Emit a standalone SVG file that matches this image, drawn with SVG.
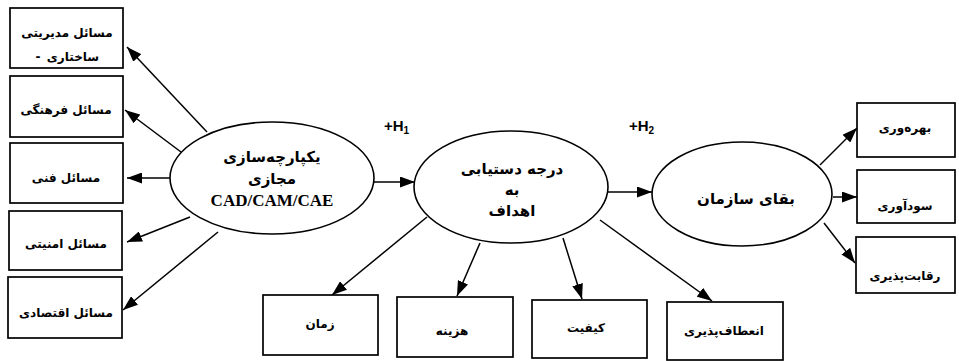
<svg xmlns="http://www.w3.org/2000/svg" width="959" height="361" viewBox="0 0 959 361">
<defs>
<marker id="ah" viewBox="0 0 15 11" refX="15" refY="5.5" markerWidth="15" markerHeight="11" markerUnits="userSpaceOnUse" orient="auto">
<path d="M0,0 L15,5.5 L0,11 Z" fill="#000"/>
</marker>
</defs>
<style>
.box{fill:#fff;stroke:#000;stroke-width:1.7}
.ell{fill:#fff;stroke:#000;stroke-width:1.6}
.con{stroke:#000;stroke-width:1.5;fill:none;marker-end:url(#ah)}
.bt{font-family:"DejaVu Sans",sans-serif;font-weight:bold;font-size:12px;text-anchor:middle;fill:#000}
.et{font-family:"DejaVu Sans",sans-serif;font-weight:bold;font-size:15px;text-anchor:middle;fill:#000}
.lt{font-family:"Liberation Serif",serif;font-weight:bold;font-size:17px;text-anchor:middle;fill:#000}
.ht{font-family:"Liberation Sans",sans-serif;font-weight:bold;font-size:15px;fill:#000}
</style>
<rect width="959" height="361" fill="#fff"/>
<g id="connectors">
<line class="con" x1="207" y1="132" x2="127" y2="47"/>
<line class="con" x1="181" y1="152" x2="125" y2="110"/>
<line class="con" x1="170" y1="178" x2="127" y2="178"/>
<line class="con" x1="190" y1="217" x2="127" y2="242"/>
<line class="con" x1="218" y1="232" x2="123" y2="310"/>
<line class="con" x1="373" y1="182" x2="415" y2="182"/>
<line class="con" x1="608" y1="192" x2="652" y2="192"/>
<line class="con" x1="427" y1="217" x2="332" y2="295"/>
<line class="con" x1="480" y1="243" x2="457" y2="296"/>
<line class="con" x1="563" y1="238" x2="582" y2="299"/>
<line class="con" x1="600" y1="220" x2="712" y2="301"/>
<line class="con" x1="820" y1="165" x2="857" y2="128"/>
<line class="con" x1="833" y1="197" x2="857" y2="197"/>
<line class="con" x1="824" y1="223" x2="855" y2="263"/>
</g>
<g id="n-modiriati"><rect class="box" x="10" y="8" width="113" height="60"/><text class="bt" x="67" y="37">مسائل مدیریتی</text><text class="bt" x="38" y="61">-</text><text class="bt" x="73" y="61">ساختاری</text></g>
<g id="n-farhangi"><rect class="box" x="10" y="76" width="113" height="61"/><text class="bt" x="66" y="114">مسائل فرهنگی</text></g>
<g id="n-fanni"><rect class="box" x="10" y="143" width="113" height="60"/><text class="bt" x="66" y="182">مسائل فنی</text></g>
<g id="n-amniati"><rect class="box" x="9" y="211" width="113" height="59"/><text class="bt" x="66" y="248">مسائل امنیتی</text></g>
<g id="n-eghtesadi"><rect class="box" x="8" y="277" width="114" height="61"/><text class="bt" x="66" y="317">مسائل اقتصادی</text></g>
<g id="n-cad"><ellipse class="ell" cx="272" cy="178" rx="102" ry="56"/><text class="et" x="272" y="162">یکپارچه‌سازی</text><text class="et" x="272" y="184">مجازی</text><text class="lt" x="272" y="206">CAD/CAM/CAE</text></g>
<g id="n-daraje"><ellipse class="ell" cx="511" cy="187" rx="97" ry="56"/><text class="et" x="512" y="174">درجه دستیابی</text><text class="et" x="512" y="195">به</text><text class="et" x="512" y="216">اهداف</text></g>
<g id="n-baqa"><ellipse class="ell" cx="742" cy="194" rx="90" ry="52"/><text class="et" x="746" y="204">بقای سازمان</text></g>
<g id="n-bahrevari"><rect class="box" x="857" y="103" width="98" height="54"/><text class="bt" x="905" y="132">بهره‌وری</text></g>
<g id="n-sudavari"><rect class="box" x="857" y="170" width="98" height="53"/><text class="bt" x="905" y="210">سودآوری</text></g>
<g id="n-reqabat"><rect class="box" x="856" y="237" width="99" height="56"/><text class="bt" x="905" y="280">رقابت‌پذیری</text></g>
<g id="n-zaman"><rect class="box" x="263" y="295" width="115" height="60"/><text class="bt" x="320" y="328">زمان</text></g>
<g id="n-hazine"><rect class="box" x="397" y="297" width="116" height="60"/><text class="bt" x="452" y="335">هزینه</text></g>
<g id="n-keyfiat"><rect class="box" x="532" y="300" width="115" height="58"/><text class="bt" x="586" y="332">کیفیت</text></g>
<g id="n-enetaf"><rect class="box" x="667" y="302" width="116" height="58"/><text class="bt" x="724" y="335">انعطاف‌پذیری</text></g>
<text class="ht" x="384" y="131">+H<tspan font-size="10" dy="3">1</tspan></text>
<text class="ht" x="629" y="131">+H<tspan font-size="10" dy="3">2</tspan></text>
</svg>
